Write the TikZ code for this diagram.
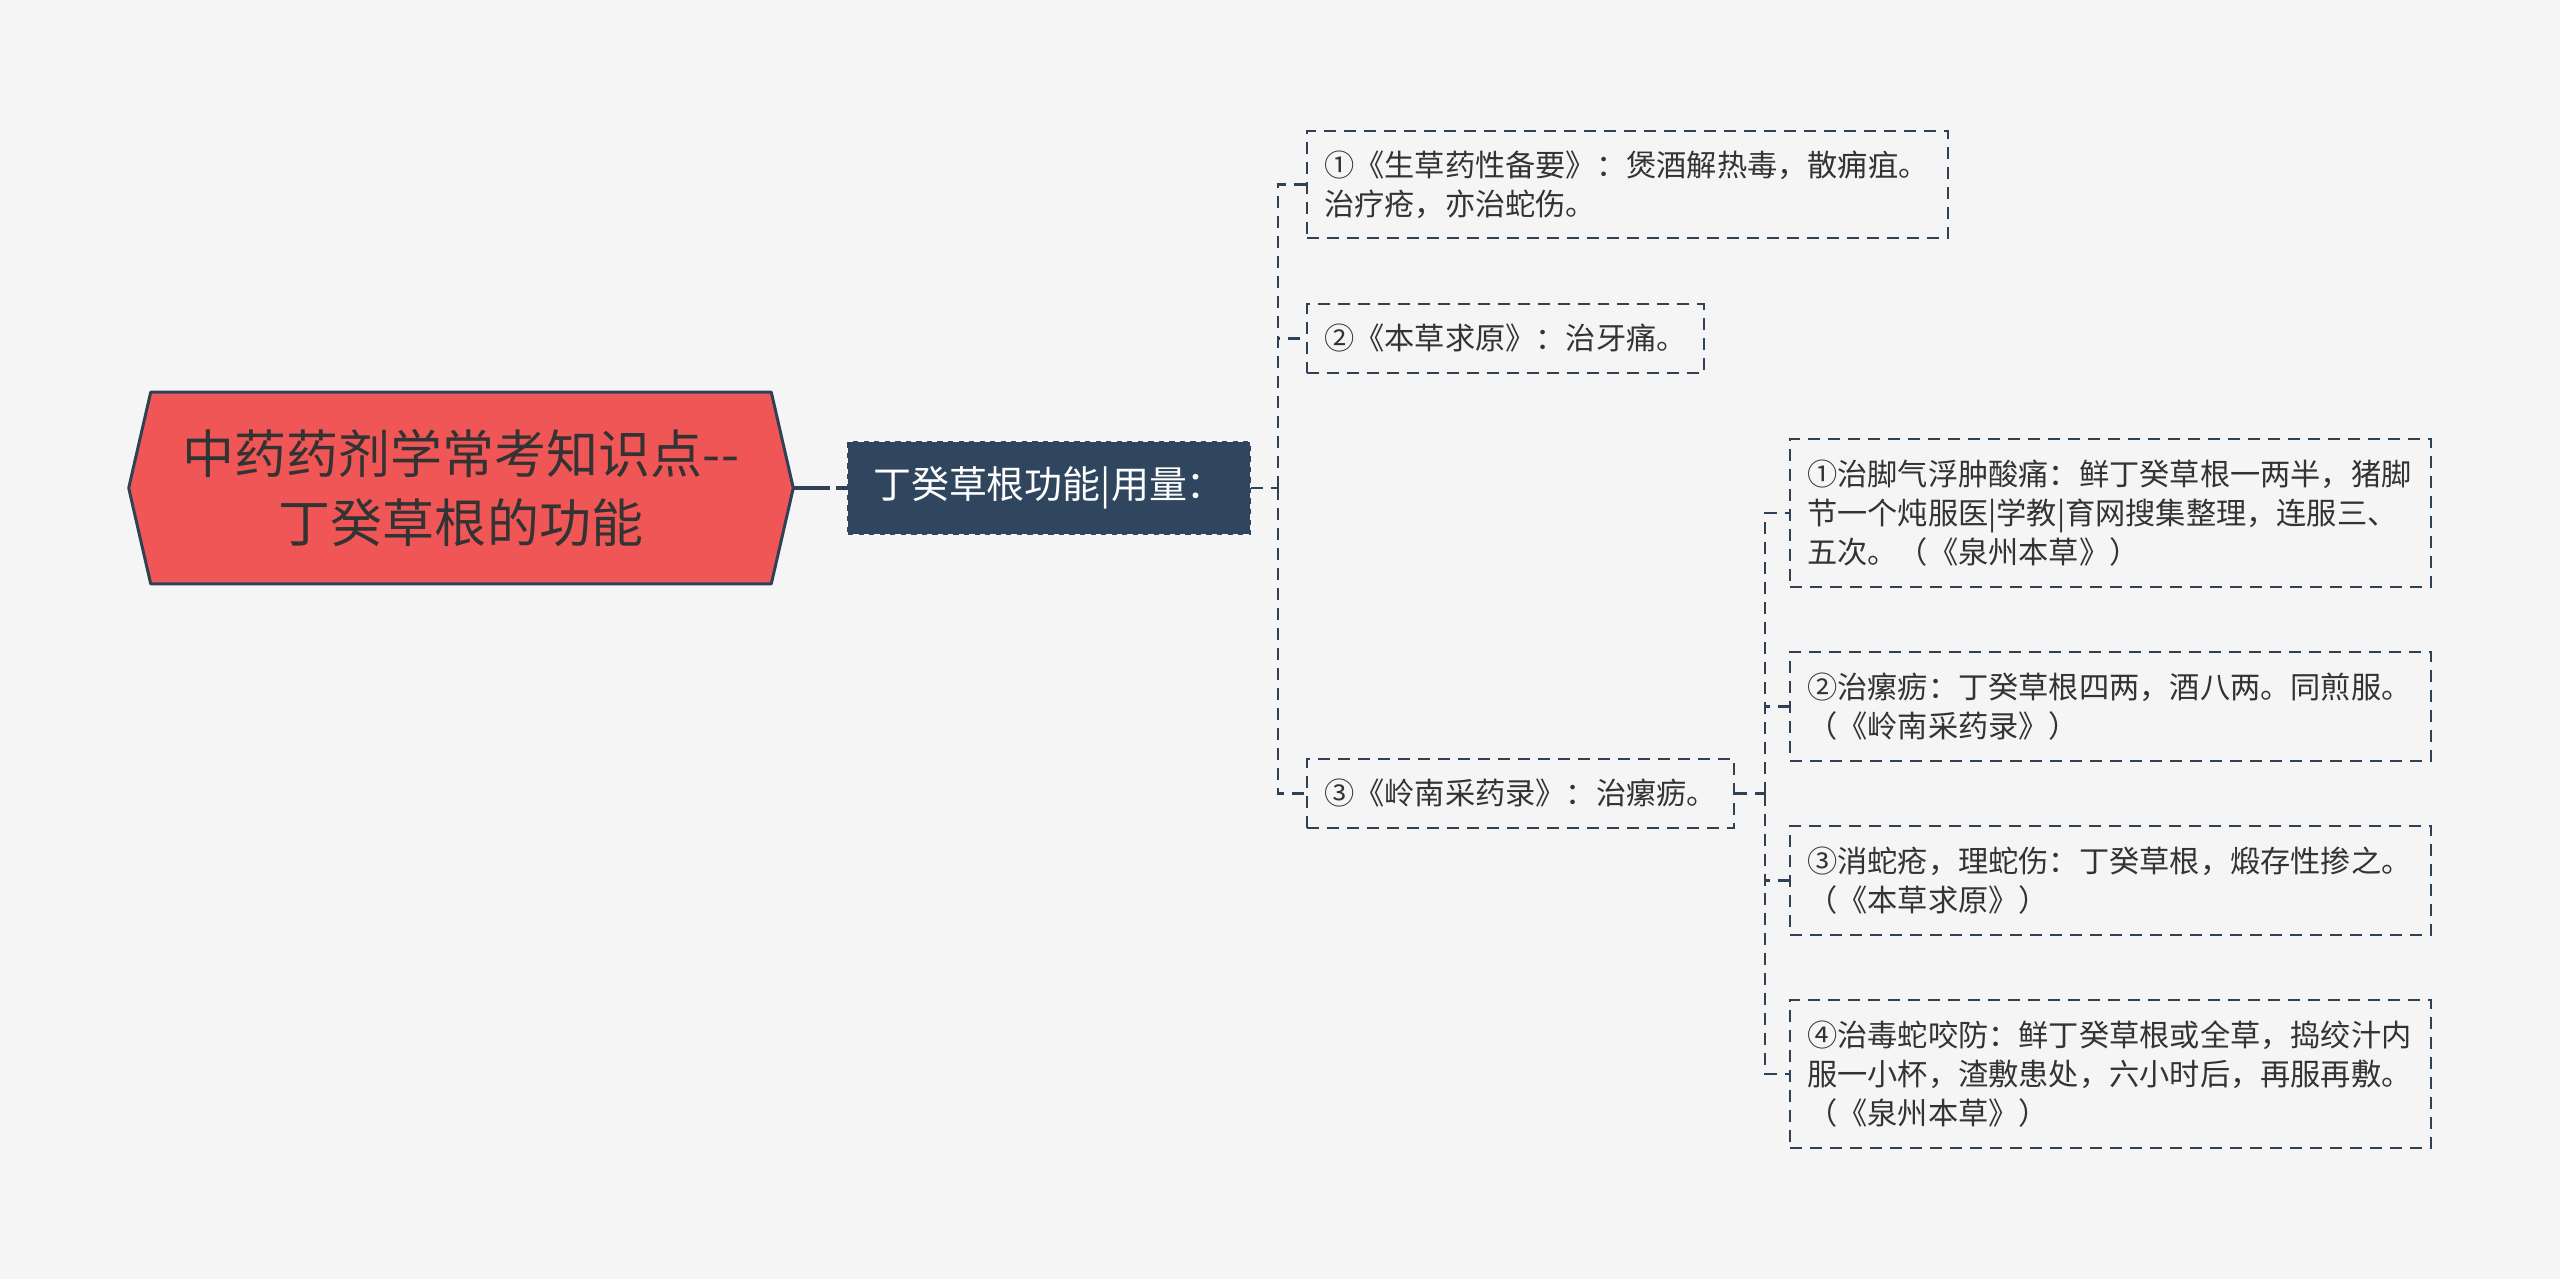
\documentclass[tikz,border=0pt]{standalone}
\usepackage{fontspec}
\setmainfont{Noto Sans CJK SC}
\usetikzlibrary{positioning,calc}
\definecolor{bgcol}{HTML}{F5F5F5}
\definecolor{rootred}{HTML}{F05656}
\definecolor{navy}{HTML}{2E4155}
\definecolor{slate}{HTML}{30465E}
\definecolor{txt}{HTML}{333333}
\tikzset{
  rootbox/.style={minimum width=13.28cm,minimum height=3.82cm,inner sep=0pt},
  roottxt/.style={align=center,text=txt,font=\fontsize{29.6}{39.7}\selectfont},
  midbox/.style={fill=slate,draw=slate,dashed,line width=1.1pt,minimum width=8.04cm,minimum height=1.84cm,text=white,font=\fontsize{21.6}{26}\selectfont},
  leaf/.style={draw=navy,dash pattern=on 0.24cm off 0.16cm,line width=1.3pt,anchor=west,inner xsep=0.34cm,inner ysep=0pt,align=left,text=txt,font=\fontsize{17.2}{22.1}\selectfont},
  link/.style={navy,dash pattern=on 0.24cm off 0.16cm,line width=1.4pt},
  rootlink/.style={navy,line width=2.4pt,dash pattern=on 0.74cm off 0.12cm on 0.3cm off 0.1cm}
}

\begin{document}
\begin{tikzpicture}[x=0.02cm,y=-0.02cm]
  % page
  \fill[bgcol] (0,0) rectangle (2560,1279);
  \useasboundingbox (0,0) rectangle (2560,1279);
  % root (hexagon)
  \path node[rootbox] (root) at (461,488) {};
  \draw[fill=rootred,draw=navy,line width=1.7pt,line join=round]
    (root.west) -- ([xshift=0.44cm]root.north west) -- ([xshift=-0.44cm]root.north east)
    -- (root.east) -- ([xshift=-0.44cm]root.south east) -- ([xshift=0.44cm]root.south west) -- cycle;
  \node[roottxt] (roottext) at (root.center) {中药药剂学常考知识点-{}-\\丁癸草根的功能};
  % second level
  \node[midbox] (mid) at (1049,488) {丁癸草根功能|用量：};
  \draw[rootlink] (root.east) -- (mid.west);
  % sources
  \node[leaf,text width=12.14cm,minimum height=2.14cm] (b1) at (1306,184.5)
    {①《生草药性备要》：煲酒解热毒，散痈疽。\\治疗疮，亦治蛇伤。};
  \node[leaf,minimum height=1.38cm] (b2) at (1306,338.5) {②《本草求原》：治牙痛。};
  \node[leaf,minimum height=1.38cm] (b3) at (1306,793.5) {③《岭南采药录》：治瘰疬。};
  \draw[link] (mid.east) -- ++(27,0) coordinate (j1);
  \draw[link] (j1) |- (b1.west);
  \draw[link] (j1) |- (b2.west);
  \draw[link] (j1) |- (b3.west);
  % prescriptions
  \node[leaf,text width=12.14cm,minimum height=2.96cm] (l1) at (1789,513)
    {①治脚气浮肿酸痛：鲜丁癸草根一两半，猪脚\\节一个炖服医|学教|育网搜集整理，连服三、\\五次。（《泉州本草》）};
  \node[leaf,text width=12.14cm,minimum height=2.18cm] (l2) at (1789,706.5)
    {②治瘰疬：丁癸草根四两，酒八两。同煎服。\\（《岭南采药录》）};
  \node[leaf,text width=12.14cm,minimum height=2.18cm] (l3) at (1789,880.5)
    {③消蛇疮，理蛇伤：丁癸草根，煅存性掺之。\\（《本草求原》）};
  \node[leaf,text width=12.14cm,minimum height=2.96cm] (l4) at (1789,1074)
    {④治毒蛇咬防：鲜丁癸草根或全草，捣绞汁内\\服一小杯，渣敷患处，六小时后，再服再敷。\\（《泉州本草》）};
  \draw[link] (b3.east) -- ++(30,0) coordinate (j2);
  \foreach \n in {l1,l2,l3,l4}
    \draw[link] (j2) |- (\n.west);
\end{tikzpicture}
\end{document}
